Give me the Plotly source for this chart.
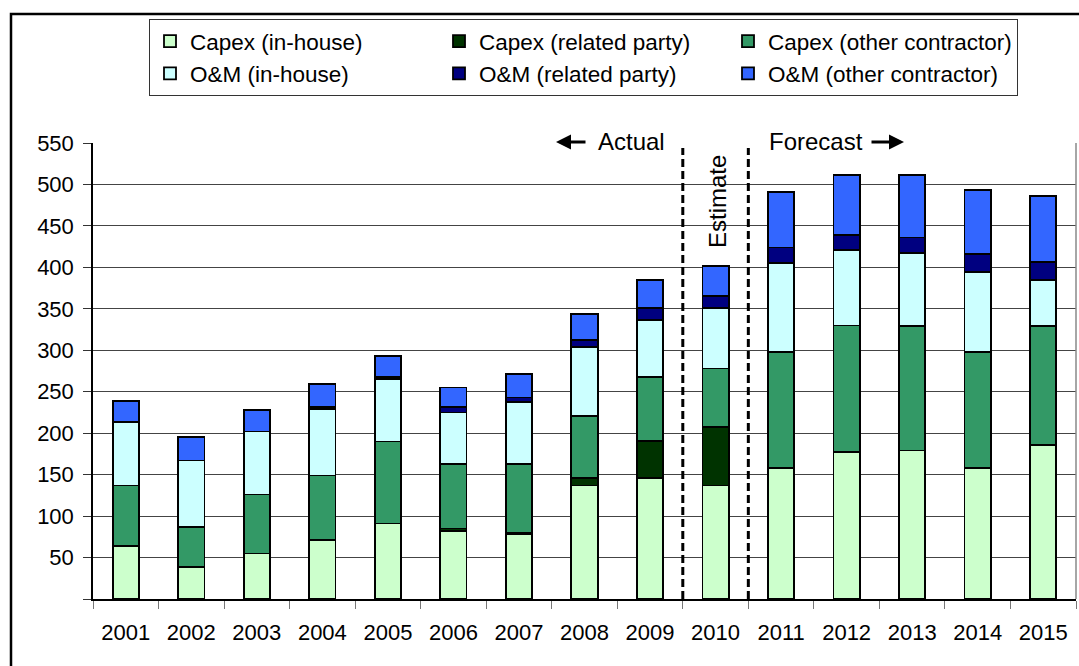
import plotly.graph_objects as go

# Expenditure by year, stacked by activity and who performs the work
years = ["2001", "2002", "2003", "2004", "2005", "2006", "2007", "2008",
         "2009", "2010", "2011", "2012", "2013", "2014", "2015"]

capex_in_house = [64, 39, 55, 71, 91, 82, 78, 137, 146, 137, 158, 177, 179, 158, 186]
capex_related = [0, 0, 0, 0, 0, 3, 2, 9, 45, 70, 0, 0, 0, 0, 0]
capex_other = [73, 48, 71, 78, 99, 78, 83, 75, 77, 71, 140, 153, 150, 140, 143]
om_in_house = [76, 80, 76, 80, 75, 62, 75, 83, 69, 73, 107, 91, 88, 96, 56]
om_related = [1, 0, 0, 3, 3, 7, 5, 8, 14, 14, 19, 18, 19, 22, 21]
om_other = [25, 28, 26, 27, 25, 23, 28, 32, 34, 37, 67, 72, 75, 77, 80]

y_ticks = [0, 50, 100, 150, 200, 250, 300, 350, 400, 450, 500, 550]
y_tick_text = ["", "50", "100", "150", "200", "250", "300", "350", "400",
               "450", "500", "550"]

series = [
    ("Capex (in-house)", capex_in_house, "#CCFFCC"),
    ("Capex (related party)", capex_related, "#003300"),
    ("Capex (other contractor)", capex_other, "#339966"),
    ("O&M (in-house)", om_in_house, "#CCFFFF"),
    ("O&M (related party)", om_related, "#000080"),
    ("O&M (other contractor)", om_other, "#3366FF"),
]

FONT = "Liberation Sans, Arial, sans-serif"
W, H = 1079, 666
L, R, T, B = 93, 3, 143, 67
PW, PH = W - L - R, H - T - B


def px_x(px):
    """Pixel column -> paper x."""
    return (px - L) / PW


def px_y(py):
    """Pixel row -> paper y."""
    return (H - B - py) / PH


fig = go.Figure()
for name, vals, color in series:
    fig.add_trace(go.Bar(
        x=years, y=vals, name=name,
        marker=dict(color=color, line=dict(color="black", width=1.8)),
    ))

# Period separators between actual / estimate / forecast years
split_actual = years.index("2010") - 0.5
split_forecast = years.index("2011") - 0.5
sep_top = 544

shapes = []
for xs in (split_actual, split_forecast):
    shapes.append(dict(type="line", xref="x", yref="y", x0=xs, x1=xs,
                       y0=0, y1=sep_top,
                       line=dict(color="black", width=3, dash="8px,4px")))

# Right edge of the plot area
shapes.append(dict(type="line", xref="paper", yref="paper", x0=1, x1=1,
                   y0=0, y1=1, line=dict(color="#888888", width=1.5)))

# Outer chart frame
shapes.append(dict(type="rect", xref="paper", yref="paper",
                   x0=px_x(11), x1=px_x(1100), y0=px_y(14), y1=px_y(700),
                   line=dict(color="black", width=2.5), layer="above"))

label_font = dict(size=24, color="black", family=FONT)
annotations = [
    dict(text="Actual", xref="paper", yref="paper", x=px_x(631), y=px_y(141),
         xanchor="center", yanchor="middle", showarrow=False, font=label_font),
    dict(text="", xref="paper", yref="paper", x=px_x(556), y=px_y(142),
         ax=31, ay=0, showarrow=True, arrowhead=2, arrowsize=1,
         arrowwidth=3, arrowcolor="black"),
    dict(text="Forecast", xref="paper", yref="paper", x=px_x(816), y=px_y(141),
         xanchor="center", yanchor="middle", showarrow=False, font=label_font),
    dict(text="", xref="paper", yref="paper", x=px_x(904), y=px_y(142),
         ax=-34, ay=0, showarrow=True, arrowhead=2, arrowsize=1,
         arrowwidth=3, arrowcolor="black"),
    dict(text="Estimate", xref="paper", yref="paper", x=px_x(717), y=px_y(202),
         xanchor="center", yanchor="middle", textangle=-90, showarrow=False,
         font=label_font),
]

fig.update_layout(
    width=W, height=H,
    margin=dict(l=L, r=R, t=T, b=B),
    paper_bgcolor="white", plot_bgcolor="white",
    barmode="stack", bargap=0.6,
    font=dict(family=FONT, size=22, color="black"),
    legend=dict(
        orientation="h", traceorder="normal",
        x=px_x(149), y=px_y(19), xanchor="left", yanchor="top",
        entrywidth=244, entrywidthmode="pixels",
        bgcolor="white", bordercolor="#333333", borderwidth=1,
        font=dict(size=22.5, family=FONT, color="black"),
    ),
    xaxis=dict(
        type="category", showline=True, linecolor="black", linewidth=1.5,
        ticks="outside", tickson="boundaries", ticklen=8, tickcolor="#777777",
        tickfont=dict(size=22, family=FONT, color="black"),
        ticklabelstandoff=13, showgrid=False,
    ),
    yaxis=dict(
        range=[0, 550], tickmode="array", tickvals=y_ticks, ticktext=y_tick_text,
        showline=True, linecolor="black", linewidth=1.5,
        ticks="outside", ticklen=8, tickcolor="#333333",
        showgrid=True, gridcolor="#444444", gridwidth=1, zeroline=False,
        tickfont=dict(size=22, family=FONT, color="black"),
        ticklabelstandoff=5,
    ),
    shapes=shapes,
    annotations=annotations,
)

fig.write_html("out.html")
